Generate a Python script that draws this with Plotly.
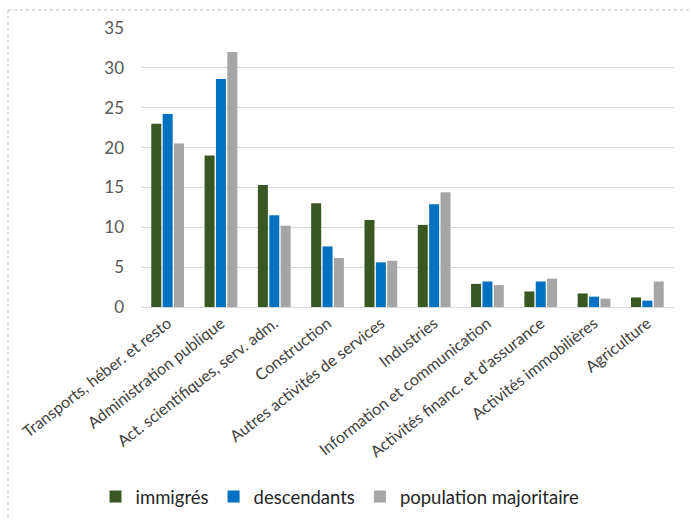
import plotly.graph_objects as go

# Secteurs d'activité (ordre d'affichage)
secteurs = [
    "Transports, héber. et resto",
    "Administration publique",
    "Act. scientifiques, serv. adm.",
    "Construction",
    "Autres activités de services",
    "Industries",
    "Information et communication",
    "Activités financ. et d'assurance",
    "Activités immobilières",
    "Agriculture",
]

# Part de chaque secteur (%) par groupe de population
immigres = [23.0, 19.0, 15.3, 13.0, 10.9, 10.3, 2.9, 1.95, 1.7, 1.2]
descendants = [24.2, 28.6, 11.5, 7.6, 5.6, 12.9, 3.2, 3.2, 1.3, 0.8]
population_majoritaire = [20.5, 32.0, 10.2, 6.15, 5.8, 14.4, 2.75, 3.55, 1.05, 3.2]

y_ticks = [0, 5, 10, 15, 20, 25, 30, 35]

series = [
    ("immigrés", immigres, "#385723"),
    ("descendants", descendants, "#0070C0"),
    ("population majoritaire", population_majoritaire, "#A5A5A5"),
]

fig = go.Figure()
for name, values, color in series:
    fig.add_trace(go.Bar(
        x=secteurs, y=values, name=name,
        marker=dict(color=color, line=dict(width=0)),
    ))

W, H = 691, 520
L, R, T, B = 141, 17, 28, 213
pw, ph = W - L - R, H - T - B

def px_x(v):
    return (v - L) / pw

def px_y(v):
    return (H - B - v) / ph

fig.update_layout(
    width=W, height=H,
    margin=dict(l=L, r=R, t=T, b=B, autoexpand=False),
    paper_bgcolor="white", plot_bgcolor="white",
    barmode="group", bargap=0.36, bargroupgap=0.12,
    font=dict(family="Lato, 'Open Sans', sans-serif", color="#595959"),
    legend=dict(
        orientation="h", x=px_x(340), xanchor="center",
        y=px_y(497), yanchor="middle",
        font=dict(size=18.5, color="#262626"),
        itemwidth=30, traceorder="normal",
    ),
    xaxis=dict(
        tickangle=-38, tickfont=dict(size=16, color="#404040"),
        showline=True, linecolor="#D9D9D9", linewidth=1,
        ticks="", showgrid=False, automargin=False,
    ),
    yaxis=dict(
        range=[0, 35], tickvals=y_ticks,
        tickfont=dict(size=17, color="#595959"),
        showgrid=True, gridcolor="#D9D9D9", gridwidth=1,
        zeroline=False, showline=False, ticks="", ticklabelstandoff=16,
        automargin=False,
    ),
    shapes=[
        dict(type="line", xref="paper", yref="paper",
             x0=px_x(8), x1=px_x(W), y0=px_y(10), y1=px_y(10),
             line=dict(color="#C0C0C0", width=1, dash="dot")),
        dict(type="line", xref="paper", yref="paper",
             x0=px_x(8), x1=px_x(8), y0=px_y(10), y1=px_y(H),
             line=dict(color="#C0C0C0", width=1, dash="dot")),
    ],
)

fig.write_html("out.html")
